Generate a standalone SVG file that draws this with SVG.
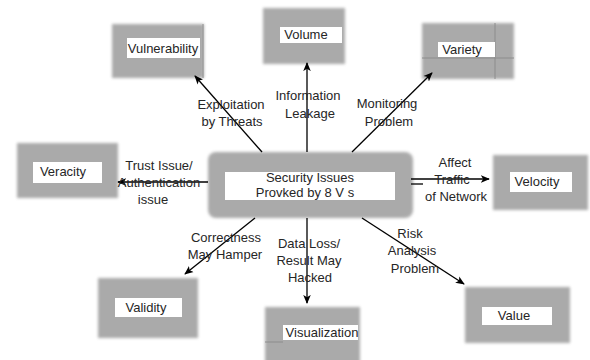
<svg xmlns="http://www.w3.org/2000/svg" width="590" height="360" viewBox="0 0 590 360">
  <style>
    .box { fill: #aaaaaa; filter: url(#soft); }
    .seam { stroke: #8c8c8c; stroke-width: 1; fill: none; }
    .tag { fill: #ffffff; }
    .name { font-family: "Liberation Sans", Arial, sans-serif; font-size: 13px; fill: #262626; text-anchor: middle; }
    .note { font-family: "Liberation Sans", Arial, sans-serif; font-size: 13px; fill: #262626; text-anchor: middle; }
    .edge { stroke: #000000; stroke-width: 1.3; fill: none; marker-end: url(#tip); }
    .plain { stroke: #000000; stroke-width: 1.3; fill: none; }
  </style>
  <defs>
    <filter id="soft" x="-10%" y="-10%" width="120%" height="120%">
      <feGaussianBlur stdDeviation="1.4"/>
    </filter>
    <marker id="tip" viewBox="0 0 10 10" refX="9" refY="5" markerWidth="9" markerHeight="9" markerUnits="userSpaceOnUse" orient="auto">
      <path d="M0,0.8 L10,5 L0,9.2 L2.5,5 Z" fill="#000000"/>
    </marker>
  </defs>

  <rect width="590" height="360" fill="#ffffff"/>

  <!-- central issue node -->
  <g id="security">
    <rect class="box" x="208" y="152" width="205" height="66" rx="8"/>
    <rect class="tag" x="225" y="172" width="170" height="28"/>
    <text class="name" x="310" y="182" font-size="13.5">Security Issues</text>
    <text class="name" x="305" y="197" font-size="13.5">Provked by 8 V s</text>
  </g>

  <g id="vulnerability">
    <rect class="box" x="112" y="24" width="92" height="54"/>
    <line class="seam" x1="203" y1="24" x2="203" y2="78"/>
    <rect class="tag" x="127" y="38" width="73" height="20"/>
    <text class="name" x="163" y="53">Vulnerability</text>
  </g>

  <g id="volume">
    <rect class="box" x="263" y="8" width="82" height="56"/>
    <rect class="tag" x="280" y="27" width="62" height="16"/>
    <text class="name" x="306" y="39">Volume</text>
  </g>

  <g id="variety">
    <rect class="box" x="422" y="23" width="92" height="56"/>
    <line class="seam" x1="495" y1="23" x2="495" y2="79"/>
    <line class="seam" x1="422" y1="58" x2="514" y2="58"/>
    <rect class="tag" x="438" y="42" width="57" height="15"/>
    <text class="name" x="462" y="54">Variety</text>
  </g>

  <g id="veracity">
    <rect class="box" x="17" y="143" width="101" height="55"/>
    <rect class="tag" x="33" y="162" width="69" height="21"/>
    <text class="name" x="63" y="176">Veracity</text>
  </g>

  <g id="velocity">
    <rect class="box" x="493" y="155" width="95" height="55"/>
    <rect class="tag" x="510" y="172" width="62" height="20"/>
    <text class="name" x="537" y="186">Velocity</text>
  </g>

  <g id="validity">
    <rect class="box" x="98" y="278" width="100" height="60"/>
    <rect class="tag" x="115" y="298" width="67" height="19"/>
    <text class="name" x="146" y="312">Validity</text>
  </g>

  <g id="visualization">
    <rect class="box" x="265" y="307" width="95" height="56"/>
    <line class="seam" x1="265" y1="342" x2="283" y2="342"/>
    <rect class="tag" x="283" y="325" width="75" height="15"/>
    <text class="name" x="322" y="337">Visualization</text>
  </g>

  <g id="value">
    <rect class="box" x="465" y="287" width="105" height="56"/>
    <rect class="tag" x="482" y="307" width="70" height="18"/>
    <text class="name" x="514" y="320">Value</text>
  </g>

  <!-- connectors from the central node to each V -->
  <g id="connectors">
    <line class="edge" x1="262" y1="152" x2="195" y2="76"/>
    <line class="edge" x1="307" y1="152" x2="307" y2="63"/>
    <line class="edge" x1="352" y1="152" x2="432" y2="73"/>
    <line class="edge" x1="208" y1="182" x2="118" y2="182"/>
    <line class="plain" x1="411" y1="184" x2="423" y2="184"/>
    <line class="edge" x1="411" y1="179" x2="489" y2="179"/>
    <line class="edge" x1="255" y1="218" x2="185" y2="274"/>
    <line class="edge" x1="307" y1="218" x2="307" y2="303"/>
    <line class="edge" x1="362" y1="218" x2="464" y2="284"/>
  </g>

  <!-- connector labels -->
  <g id="labels">
    <text class="note" x="231" y="109">Exploitation</text>
    <text class="note" x="232" y="126">by Threats</text>
    <text class="note" x="308" y="100">Information</text>
    <text class="note" x="310" y="118">Leakage</text>
    <text class="note" x="387" y="108">Monitoring</text>
    <text class="note" x="389" y="126">Problem</text>
    <text class="note" x="159" y="170">Trust Issue/</text>
    <text class="note" x="159" y="187">Authentication</text>
    <text class="note" x="153" y="204">issue</text>
    <text class="note" x="455" y="167">Affect</text>
    <text class="note" x="452" y="184">Traffic</text>
    <text class="note" x="456" y="201">of Network</text>
    <text class="note" x="226" y="242">Correctness</text>
    <text class="note" x="225" y="259">May Hamper</text>
    <text class="note" x="309" y="248">Data Loss/</text>
    <text class="note" x="309" y="265">Result May</text>
    <text class="note" x="310" y="282">Hacked</text>
    <text class="note" x="410" y="238">Risk</text>
    <text class="note" x="412" y="255">Analysis</text>
    <text class="note" x="415" y="273">Problem</text>
  </g>
</svg>
